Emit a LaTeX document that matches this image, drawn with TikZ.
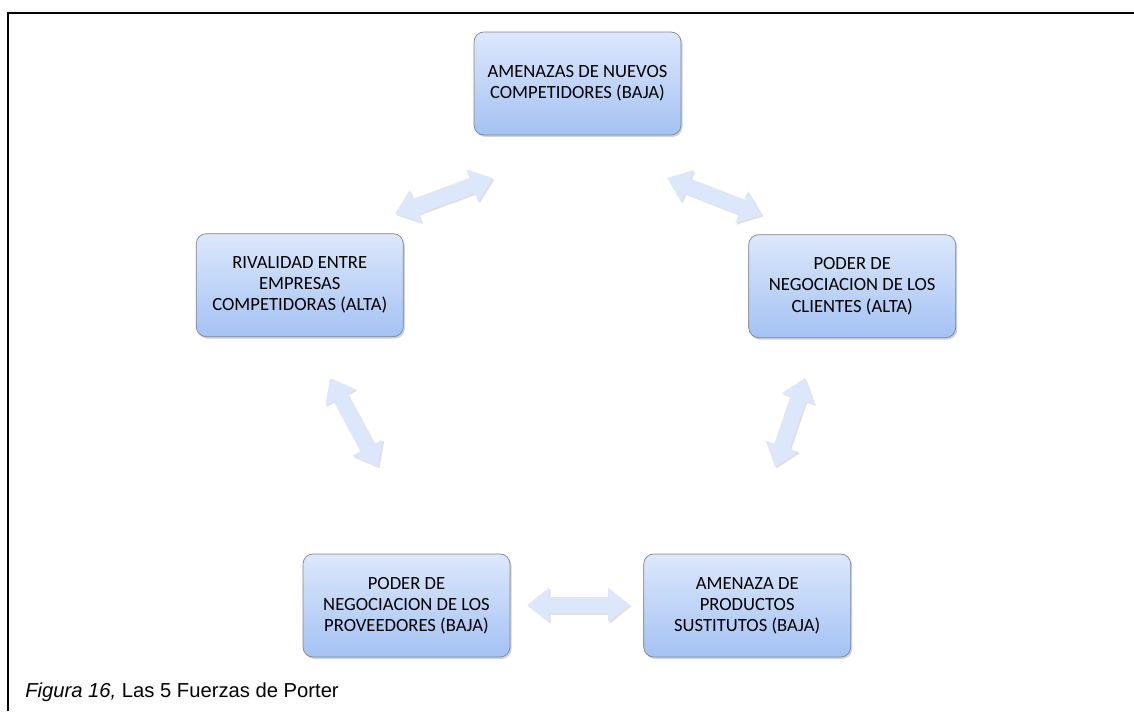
\documentclass[tikz,border=0pt]{standalone}
\usepackage{fontspec}
\setmainfont{Liberation Sans}
\newfontfamily\cajafont{Carlito}
\usepackage{tikz}
\usetikzlibrary{shapes,arrows.meta}
\usetikzlibrary{positioning}
\usetikzlibrary{shadows}
\definecolor{cajaarriba}{RGB}{220,232,252}
\definecolor{cajaabajo}{RGB}{164,194,243}
\definecolor{cajaborde}{RGB}{125,135,150}
\definecolor{flechaazul}{RGB}{221,231,251}
\tikzstyle{caja} = [rectangle, rounded corners=0.2cm, draw=cajaborde, top color=cajaarriba,
bottom color=cajaabajo, minimum width=4.14cm, minimum height=2.06cm, align=center,
font=\cajafont\fontsize{10.6}{12}\selectfont, drop shadow={shadow xshift=0.03cm, shadow yshift=-0.04cm, opacity=0.35}]
\tikzstyle{flecha} = [draw=flechaazul, line width=0.32cm, {Triangle[width=0.66cm, length=0.44cm]}-{Triangle[width=0.66cm, length=0.44cm]}]
\tikzstyle{sombra} = [draw=black!12, line width=0.32cm, {Triangle[width=0.66cm, length=0.44cm]}-{Triangle[width=0.66cm, length=0.44cm]}]

\begin{document}
\begin{tikzpicture}
	\useasboundingbox (0,0) rectangle (22.68,14.22);
	%% Marco
	\draw[line width=1.2pt] (0.16,0) -- (0.16,13.96) -- (22.68,13.96);
	%% Fuerzas
	\node [caja] (nuevos) at (11.55,12.55) {AMENAZAS DE NUEVOS\\COMPETIDORES (BAJA)};
	\node [caja, below left=1.96cm and 1.40cm of nuevos] (rivalidad) {RIVALIDAD ENTRE\\EMPRESAS\\COMPETIDORAS (ALTA)};
	\node [caja, below right=1.98cm and 1.34cm of nuevos] (clientes) {PODER DE\\NEGOCIACION DE LOS\\CLIENTES (ALTA)};
	\node [caja] (proveedores) at (8.13,2.11) {PODER DE\\NEGOCIACION DE LOS\\PROVEEDORES (BAJA)};
	\node [caja, right=2.66cm of proveedores] (sustitutos) {AMENAZA DE\\PRODUCTOS\\SUSTITUTOS (BAJA)};
	%% Extremos de las flechas
	\coordinate (f1a) at (7.90,9.94);
	\coordinate (f1b) at (9.86,10.66);
	\coordinate (f2a) at (13.34,10.66);
	\coordinate (f2b) at (15.24,9.92);
	\coordinate (f3a) at (6.60,6.66);
	\coordinate (f3b) at (7.56,4.88);
	\coordinate (f4a) at (16.10,6.66);
	\coordinate (f4b) at (15.50,4.88);
	\coordinate (f5a) at (10.54,2.12);
	\coordinate (f5b) at (12.60,2.12);
	%% Flechas
	\foreach \a/\b in {f1a/f1b, f2a/f2b, f3a/f3b, f4a/f4b, f5a/f5b}
	{
		\path [sombra, transform canvas={xshift=0.03cm, yshift=-0.03cm}] (\a) -- (\b);
		\path [flecha] (\a) -- (\b);
	}
	%% Pie
	\node [anchor=base west, inner sep=0pt, font=\fontsize{11.5}{13}\selectfont] (pie) at (0.5,0.28) {\textit{Figura 16,} Las 5 Fuerzas de Porter};
\end{tikzpicture}
\end{document}
